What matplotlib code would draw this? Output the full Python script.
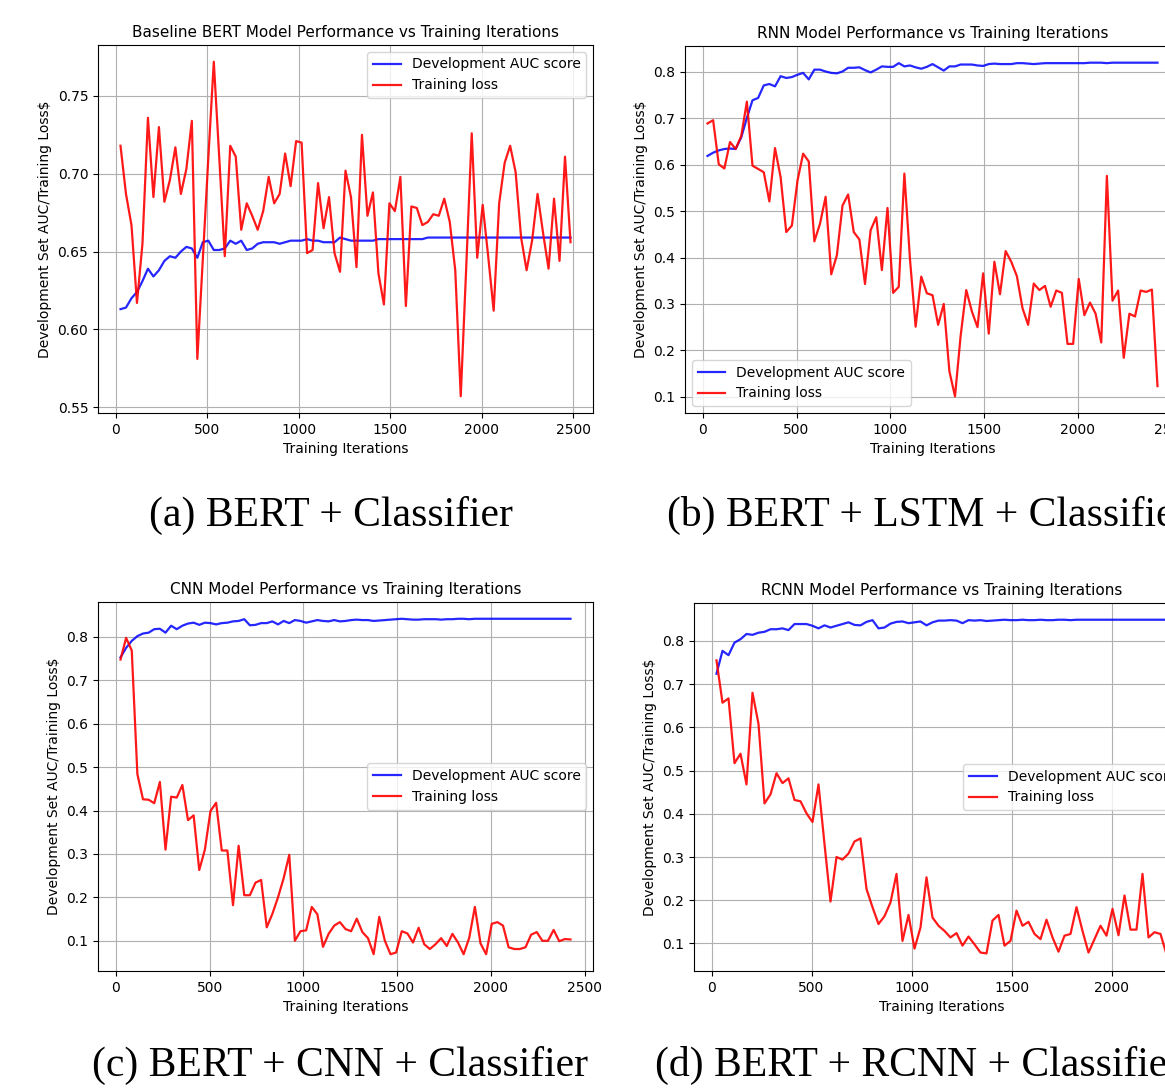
import matplotlib
matplotlib.use("Agg")
import matplotlib.pyplot as plt

# iteration grids (evaluation every 30 steps)
iters_a = list(range(25, 2486, 30))
iters_bc = list(range(25, 2426, 30))
iters_d = list(range(25, 2276, 30))

# (a) BERT + Classifier
auc_a = [0.613, 0.614, 0.620, 0.624, 0.631, 0.639, 0.634, 0.638, 0.644, 0.647,
         0.646, 0.650, 0.653, 0.652, 0.646, 0.656, 0.657, 0.651, 0.651, 0.652,
         0.657, 0.655, 0.657, 0.651, 0.652, 0.655, 0.656, 0.656, 0.656, 0.655,
         0.656, 0.657, 0.657, 0.657, 0.658, 0.657, 0.657, 0.656, 0.656, 0.656,
         0.659, 0.658, 0.657, 0.657, 0.657, 0.657, 0.657, 0.658, 0.658, 0.658,
         0.658, 0.658, 0.658, 0.658, 0.658, 0.658, 0.659, 0.659, 0.659, 0.659,
         0.659, 0.659, 0.659, 0.659, 0.659, 0.659, 0.659, 0.659, 0.659, 0.659,
         0.659, 0.659, 0.659, 0.659, 0.659, 0.659, 0.659, 0.659, 0.659, 0.659,
         0.659, 0.659, 0.659]
loss_a = [0.718, 0.687, 0.667, 0.617, 0.655, 0.736, 0.685, 0.730, 0.682, 0.696,
          0.717, 0.687, 0.703, 0.734, 0.581, 0.645, 0.710, 0.772, 0.710, 0.647,
          0.718, 0.711, 0.664, 0.681, 0.673, 0.664, 0.676, 0.698, 0.681, 0.687,
          0.713, 0.692, 0.721, 0.720, 0.649, 0.651, 0.694, 0.665, 0.685, 0.649,
          0.637, 0.702, 0.685, 0.640, 0.725, 0.673, 0.688, 0.636, 0.616, 0.681,
          0.676, 0.698, 0.615, 0.679, 0.678, 0.667, 0.669, 0.674, 0.673, 0.684,
          0.669, 0.638, 0.557, 0.640, 0.726, 0.646, 0.680, 0.647, 0.612, 0.681,
          0.707, 0.718, 0.701, 0.659, 0.638, 0.657, 0.687, 0.662, 0.639, 0.684,
          0.644, 0.711, 0.656]

# (b) BERT + LSTM + Classifier
auc_b = [0.619, 0.626, 0.631, 0.634, 0.635, 0.634, 0.659, 0.701, 0.739, 0.744,
         0.771, 0.774, 0.769, 0.791, 0.787, 0.789, 0.794, 0.798, 0.784, 0.805,
         0.805, 0.801, 0.798, 0.797, 0.801, 0.809, 0.809, 0.810, 0.804, 0.799,
         0.805, 0.812, 0.811, 0.811, 0.819, 0.812, 0.814, 0.810, 0.807, 0.811,
         0.817, 0.810, 0.803, 0.812, 0.812, 0.816, 0.816, 0.816, 0.814, 0.813,
         0.817, 0.818, 0.817, 0.817, 0.817, 0.819, 0.819, 0.818, 0.817, 0.818,
         0.819, 0.819, 0.819, 0.819, 0.819, 0.819, 0.819, 0.819, 0.820, 0.820,
         0.820, 0.819, 0.820, 0.820, 0.820, 0.820, 0.820, 0.820, 0.820, 0.820,
         0.820]
loss_b = [0.689, 0.696, 0.601, 0.592, 0.649, 0.634, 0.662, 0.736, 0.598, 0.591,
          0.584, 0.521, 0.636, 0.573, 0.455, 0.469, 0.566, 0.624, 0.607, 0.435,
          0.473, 0.531, 0.364, 0.405, 0.512, 0.536, 0.455, 0.439, 0.343, 0.459,
          0.487, 0.373, 0.507, 0.324, 0.337, 0.581, 0.396, 0.251, 0.359, 0.323,
          0.319, 0.255, 0.300, 0.155, 0.101, 0.231, 0.330, 0.284, 0.250, 0.366,
          0.236, 0.391, 0.321, 0.414, 0.391, 0.360, 0.291, 0.255, 0.344, 0.330,
          0.339, 0.294, 0.329, 0.324, 0.214, 0.214, 0.354, 0.276, 0.303, 0.279,
          0.217, 0.576, 0.307, 0.329, 0.184, 0.279, 0.273, 0.329, 0.326, 0.331,
          0.123]

# (c) BERT + CNN + Classifier
auc_c = [0.753, 0.775, 0.791, 0.802, 0.808, 0.810, 0.818, 0.819, 0.810, 0.826,
         0.818, 0.826, 0.831, 0.833, 0.828, 0.833, 0.832, 0.829, 0.832, 0.833,
         0.836, 0.837, 0.841, 0.827, 0.828, 0.832, 0.832, 0.836, 0.829, 0.837,
         0.832, 0.839, 0.837, 0.833, 0.836, 0.839, 0.837, 0.836, 0.839, 0.836,
         0.837, 0.839, 0.840, 0.839, 0.839, 0.837, 0.838, 0.839, 0.840, 0.841,
         0.842, 0.841, 0.840, 0.840, 0.841, 0.841, 0.841, 0.840, 0.841, 0.841,
         0.842, 0.842, 0.841, 0.842, 0.842, 0.842, 0.842, 0.842, 0.842, 0.842,
         0.842, 0.842, 0.842, 0.842, 0.842, 0.842, 0.842, 0.842, 0.842, 0.842,
         0.842]
loss_c = [0.748, 0.798, 0.769, 0.484, 0.426, 0.425, 0.417, 0.466, 0.310, 0.432,
          0.430, 0.459, 0.378, 0.389, 0.263, 0.310, 0.399, 0.418, 0.308, 0.308,
          0.182, 0.319, 0.205, 0.205, 0.234, 0.240, 0.131, 0.162, 0.200, 0.244,
          0.298, 0.100, 0.122, 0.124, 0.178, 0.161, 0.086, 0.116, 0.135, 0.143,
          0.127, 0.122, 0.151, 0.120, 0.106, 0.069, 0.155, 0.100, 0.069, 0.073,
          0.122, 0.117, 0.096, 0.130, 0.092, 0.081, 0.092, 0.106, 0.088, 0.116,
          0.096, 0.069, 0.107, 0.178, 0.094, 0.069, 0.139, 0.143, 0.135, 0.085,
          0.081, 0.081, 0.085, 0.114, 0.120, 0.100, 0.100, 0.125, 0.099, 0.104,
          0.103]

# (d) BERT + RCNN + Classifier
auc_d = [0.724, 0.777, 0.767, 0.796, 0.804, 0.816, 0.814, 0.819, 0.821, 0.827,
         0.827, 0.829, 0.825, 0.839, 0.839, 0.839, 0.835, 0.829, 0.836, 0.831,
         0.835, 0.839, 0.843, 0.837, 0.836, 0.844, 0.848, 0.829, 0.831, 0.840,
         0.844, 0.845, 0.841, 0.843, 0.845, 0.836, 0.843, 0.847, 0.847, 0.848,
         0.847, 0.841, 0.848, 0.847, 0.848, 0.846, 0.847, 0.848, 0.849, 0.848,
         0.848, 0.849, 0.848, 0.848, 0.849, 0.848, 0.848, 0.849, 0.849, 0.848,
         0.849, 0.849, 0.849, 0.849, 0.849, 0.849, 0.849, 0.849, 0.849, 0.849,
         0.849, 0.849, 0.849, 0.849, 0.849, 0.849]
loss_d = [0.755, 0.657, 0.667, 0.517, 0.539, 0.468, 0.680, 0.608, 0.424, 0.445,
          0.494, 0.471, 0.482, 0.432, 0.429, 0.401, 0.381, 0.468, 0.330, 0.197,
          0.300, 0.294, 0.308, 0.336, 0.343, 0.226, 0.184, 0.145, 0.163, 0.195,
          0.261, 0.106, 0.166, 0.088, 0.137, 0.253, 0.160, 0.141, 0.129, 0.114,
          0.124, 0.095, 0.116, 0.098, 0.079, 0.077, 0.153, 0.166, 0.095, 0.106,
          0.176, 0.141, 0.150, 0.122, 0.110, 0.155, 0.114, 0.081, 0.118, 0.122,
          0.184, 0.129, 0.079, 0.110, 0.141, 0.118, 0.180, 0.119, 0.211, 0.132,
          0.132, 0.261, 0.114, 0.126, 0.122, 0.075]

titles = ["Baseline BERT Model Performance vs Training Iterations",
          "RNN Model Performance vs Training Iterations",
          "CNN Model Performance vs Training Iterations",
          "RCNN Model Performance vs Training Iterations"]
captions = ["(a) BERT + Classifier", "(b) BERT + LSTM + Classifier",
            "(c) BERT + CNN + Classifier", "(d) BERT + RCNN + Classifier"]

W, H = 1165, 1092
fig = plt.figure(figsize=(W / 100, H / 100), dpi=100)


def px_axes(left, top, width, height):
    return fig.add_axes([left / W, 1 - (top + height) / H, width / W, height / H])


panels = [
    (px_axes(98, 45, 495, 368), iters_a, auc_a, loss_a, "upper right"),
    (px_axes(685, 46, 495, 367), iters_bc, auc_b, loss_b, "lower left"),
    (px_axes(98, 602, 495, 369), iters_bc, auc_c, loss_c, "center right"),
    (px_axes(694, 603, 495, 368), iters_d, auc_d, loss_d, "center right"),
]

for (ax, x, auc, loss, loc), title in zip(panels, titles):
    ax.plot(x, auc, color="b", alpha=0.85, lw=1.6, label="Development AUC score")
    ax.plot(x, loss, color="r", alpha=0.9, lw=1.6, label="Training loss")
    ax.set_title(title, fontsize=11)
    ax.set_xlabel("Training Iterations", fontsize=10)
    ax.set_ylabel(r"Development Set AUC/Training Loss\$", fontsize=10)
    ax.grid(True, color="#b0b0b0", lw=0.8)
    ax.legend(loc=loc, fontsize=10)

# captions under each panel (the right column is cut by the page edge)
cap_pos = [(331, 515), (928, 515), (340, 1065), (918, 1065)]
for (cx, cy), text in zip(cap_pos, captions):
    fig.text(cx / W, 1 - cy / H, text, family="Liberation Serif", fontsize=30,
             ha="center", va="center")

fig.savefig("out.png", dpi=100)
